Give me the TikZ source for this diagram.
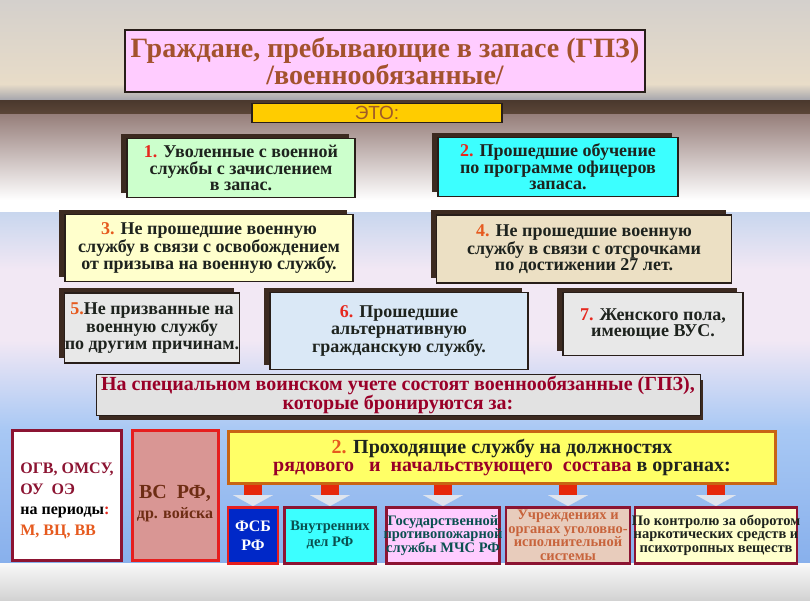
\documentclass[tikz,border=0pt]{standalone}
\usepackage{fontspec}
\setmainfont{Liberation Serif}
\newfontfamily\arialfont{Liberation Sans}
\usetikzlibrary{arrows.meta,positioning,shadows}
\definecolor{titlepink}{RGB}{255,204,255}
\definecolor{titletext}{RGB}{163,82,45}
\definecolor{etoyellow}{RGB}{255,204,0}
\definecolor{etotext}{RGB}{160,90,40}
\definecolor{boxline}{RGB}{40,30,25}
\definecolor{shadowbrown}{RGB}{60,42,32}
\definecolor{greenfill}{RGB}{204,255,204}
\definecolor{cyanfill}{RGB}{60,255,255}
\definecolor{paleyellow}{RGB}{255,255,204}
\definecolor{beige}{RGB}{236,224,196}
\definecolor{marble}{RGB}{232,232,232}
\definecolor{paleblue}{RGB}{218,232,246}
\definecolor{numred}{RGB}{230,40,30}
\definecolor{numorange}{RGB}{230,90,30}
\definecolor{bannerfill}{RGB}{226,226,226}
\definecolor{bannertext}{RGB}{153,0,40}
\definecolor{crimson}{RGB}{140,20,50}
\definecolor{rosefill}{RGB}{217,150,148}
\definecolor{vsred}{RGB}{230,30,30}
\definecolor{vstext}{RGB}{110,45,20}
\definecolor{orgyellow}{RGB}{255,255,102}
\definecolor{orgline}{RGB}{200,100,20}
\definecolor{arrred}{RGB}{230,40,10}
\definecolor{arrgrey}{RGB}{222,228,238}
\definecolor{fsbblue}{RGB}{0,40,200}
\definecolor{tealtext}{RGB}{10,80,80}
\definecolor{tanfill}{RGB}{232,204,188}
\definecolor{tantext}{RGB}{200,100,60}
\definecolor{darktext}{RGB}{30,35,30}
\definecolor{skytop}{RGB}{212,208,204}
\definecolor{skylow}{RGB}{232,220,200}
\definecolor{hills}{RGB}{165,165,172}
\definecolor{ground}{RGB}{92,70,56}
\definecolor{groundlow}{RGB}{150,126,122}
\definecolor{paleviolet}{RGB}{242,232,244}
\definecolor{lightblue}{RGB}{200,214,238}
\definecolor{midblue}{RGB}{168,200,244}
\definecolor{deepblue}{RGB}{136,176,236}

\begin{document}
\begin{tikzpicture}[x=1pt,y=-1pt,>=Stealth, every node/.style={font=\bfseries,align=center,inner sep=1pt}]
    \tikzset{sbox/.style={draw=boxline,line width=1.5pt,text=darktext,inner xsep=0pt,font=\bfseries\fontsize{18}{16.5}\selectfont,
      general shadow={fill=shadowbrown,shadow xshift=-6pt,shadow yshift=5pt}}}
    \tikzset{orgbox/.style={draw=crimson,line width=2.5pt,inner xsep=-30pt,minimum height=56pt,anchor=north,
      font=\bfseries\fontsize{14.5}{13.5}\selectfont}}
    \tikzset{blockarr/.style={arrred,line width=18pt,-{Triangle[width=40pt,length=11pt,line width=0.1pt,color=arrgrey]}}}
    \useasboundingbox (0,0) rectangle (810,600);

    % Background
    \shade[top color=skytop,bottom color=skylow] (0,0) rectangle (810,84);
    \shade[top color=skylow,bottom color=hills] (0,84) rectangle (810,100);
    \shade[top color=ground!80!black,bottom color=ground] (0,100) rectangle (810,114);
    \shade[top color=groundlow,bottom color=white] (0,114) rectangle (810,200);
    \fill[white] (0,200) rectangle (810,212);
    \shade[top color=lightblue,bottom color=paleviolet] (0,212) rectangle (810,270);
    \fill[paleviolet] (0,270) rectangle (810,340);
    \shade[top color=paleviolet,bottom color=midblue] (0,340) rectangle (810,430);
    \shade[top color=midblue,bottom color=deepblue] (0,430) rectangle (810,563);
    \shade[top color=white!95!gray,bottom color=gray!35] (0,563) rectangle (810,600);

    % Title
    \node[draw=boxline,line width=2pt,fill=titlepink,text=titletext,minimum width=520pt,minimum height=62pt,
      font=\bfseries\fontsize{28}{25}\selectfont] (title) at (385,61) {Граждане, пребывающие в запасе (ГПЗ)\\/военнообязанные/};
    \node[draw=boxline,line width=1.5pt,fill=etoyellow,text=etotext,minimum width=250pt,minimum height=19pt,
      font=\arialfont\fontsize{19}{19}\selectfont] (eto) at (377,113) {ЭТО:};

    % Categories
    \node[sbox,fill=greenfill,minimum width=228pt,minimum height=59pt] (cat1) at (241,168)
      {{\color{numred}1.} Уволенные с военной\\службы с зачислением\\в запас.};
    \node[sbox,fill=cyanfill,minimum width=240pt,minimum height=59pt] (cat2) at (558,167)
      {{\color{numred}2.} Прошедшие обучение\\по программе офицеров\\запаса.};
    \node[sbox,fill=paleyellow,minimum width=288pt,minimum height=67pt] (cat3) at (209,248)
      {{\color{numorange}3.} Не прошедшие военную\\службу в связи с освобождением\\от призыва на военную службу.};
    \node[sbox,fill=beige,minimum width=295pt,minimum height=68pt] (cat4) at (584,249)
      {{\color{numorange}4.} Не прошедшие военную\\службу в связи с отсрочками\\по достижении 27 лет.};
    \node[sbox,fill=marble,minimum width=175pt,minimum height=70pt] (cat5) at (152,328)
      {{\color{numorange}5.}Не призванные на\\военную службу\\по другим причинам.};
    \node[sbox,fill=paleblue,minimum width=258pt,minimum height=77pt] (cat6) at (399,331)
      {{\color{numred}6.} Прошедшие\\альтернативную\\гражданскую службу.};
    \node[sbox,fill=marble,minimum width=180pt,minimum height=63pt] (cat7) at (653,324)
      {{\color{numred}7.} Женского пола,\\имеющие ВУС.};

    % Reserved
    \node[draw=boxline,line width=1pt,fill=bannerfill,text=bannertext,minimum width=604pt,minimum height=36pt,inner xsep=0pt,
      font=\bfseries\fontsize{20}{17}\selectfont,
      general shadow={fill=shadowbrown,shadow xshift=3pt,shadow yshift=-5pt}] (banner) at (398,395)
      {На специальном воинском учете состоят военнообязанные (ГПЗ),\\которые бронируются за:};
    \node[draw=crimson,line width=3pt,fill=white,minimum width=109pt,minimum height=130pt,align=left,inner xsep=-10pt,
      font=\bfseries\fontsize{16}{20.5}\selectfont] (ogv) at (67,495)
      {\rule{0pt}{22pt}\color{crimson}ОГВ, ОМСУ,\\\color{crimson}ОУ\ \ ОЭ\\на периоды{\color{numred}:}\\\color{numorange}М, ВЦ, ВВ};
    \node[draw=vsred,line width=3pt,fill=rosefill,text=vstext,minimum width=86pt,minimum height=130pt,inner xsep=-10pt] (vs) at (175,495)
      {\rule{0pt}{30pt}{\fontsize{20}{22}\selectfont ВС\ \ РФ,}\\[5pt]{\fontsize{16}{17}\selectfont др. войска}};
    \node[draw=orgline,line width=3pt,fill=orgyellow,text=darktext,minimum width=547pt,minimum height=52pt,
      font=\bfseries\fontsize{20}{18}\selectfont] (org) at (502,457)
      {{\color{numorange}2.} Проходящие службу на должностях\\{\color{bannertext}рядового\ \ \ и\ \ начальствующего\ \ состава} в органах:};

    % Organs
    \draw[blockarr] (org.south -| 253,0) -- (253,506);
    \draw[blockarr] (org.south -| 330,0) -- (330,506);
    \draw[blockarr] (org.south -| 443,0) -- (443,506);
    \draw[blockarr] (org.south -| 568,0) -- (568,506);
    \draw[blockarr] (org.south -| 716,0) -- (716,506);
    \node[orgbox,draw=vsred,fill=fsbblue,text=white,minimum width=50pt,font=\bfseries\fontsize{16}{19}\selectfont] (fsb) at (253,506) {ФСБ\\РФ};
    \node[orgbox,fill=cyanfill,text=tealtext,minimum width=91pt,font=\bfseries\fontsize{14.5}{16}\selectfont] (mvd) at (330,506) {Внутренних\\дел РФ};
    \node[orgbox,fill=titlepink,text=tealtext,minimum width=113pt] (mchs) at (443,506)
      {Государственной\\противопожарной\\службы МЧС РФ};
    \node[orgbox,fill=tanfill,text=tantext,minimum width=124pt] (uis) at (568,506)
      {Учреждениях и\\органах уголовно-\\исполнительной\\системы};
    \node[orgbox,fill=paleyellow,text=darktext,minimum width=162pt] (narko) at (716,506)
      {По контролю за оборотом\\наркотических средств и\\психотропных веществ};
  \end{tikzpicture}
\end{document}
